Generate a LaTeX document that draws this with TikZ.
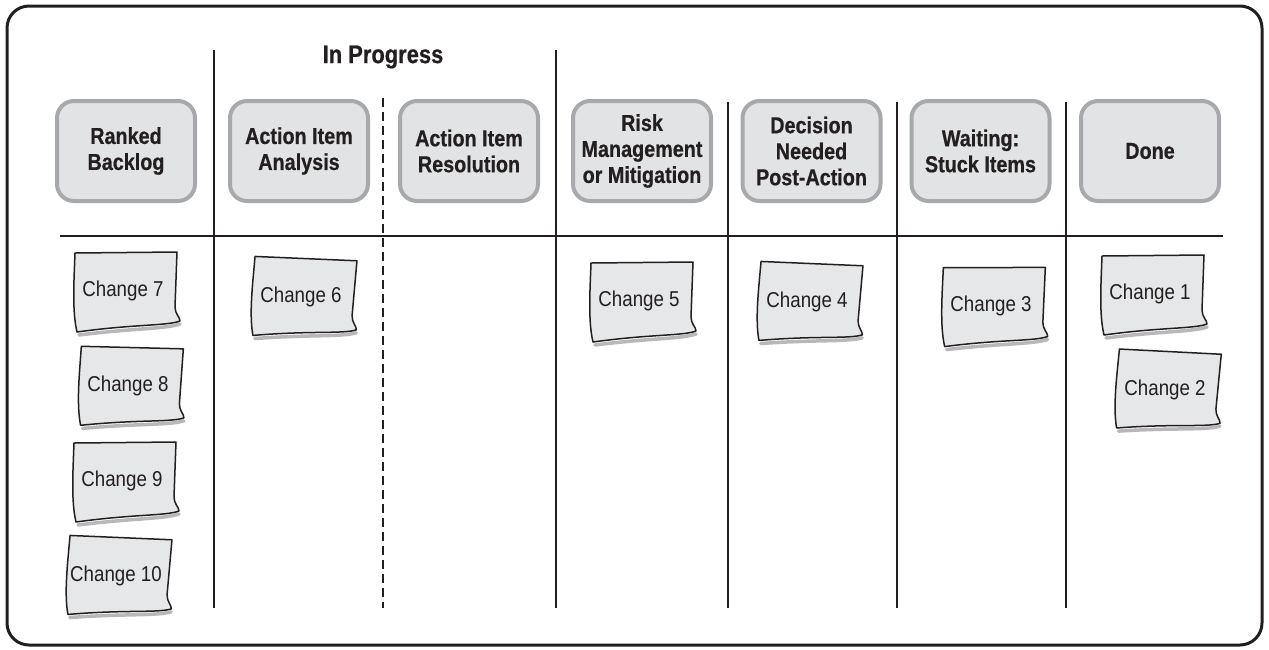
\documentclass[tikz,border=0pt]{standalone}
\usepackage{fontspec}
\setmainfont{Liberation Sans}[FakeStretch=0.87]
\newfontfamily\hdrfont{Liberation Sans}[FakeStretch=0.86,FakeBold=0.6]
\definecolor{ink}{HTML}{231F20}
\definecolor{hdrfill}{HTML}{E2E3E4}
\definecolor{hdrline}{HTML}{A7A9AC}
\definecolor{notefill}{HTML}{E6E7E8}
\definecolor{noteshadow}{HTML}{B8B8B8}
\tikzset{
  frame/.style={draw=ink,line width=3pt,rounded corners=22pt},
  hdr/.style={draw=hdrline,fill=hdrfill,line width=4pt,rounded corners=17pt,
    minimum width=138pt,minimum height=100pt,align=center,text=ink,
    font=\hdrfont\fontsize{23}{26}\selectfont\bfseries},
  title/.style={text=ink,font=\hdrfont\fontsize{25.5}{30}\selectfont\bfseries},
  lane/.style={draw=ink,line width=2.3pt},
  lanedash/.style={draw=ink,line width=2.3pt,dash pattern=on 9pt off 5pt},
  notebody/.style={draw=ink,fill=notefill,line width=1.5pt,line join=round},
  notesh/.style={draw=noteshadow,line width=3.5pt,line cap=round},
  notetxt/.style={text=ink,font=\fontsize{21.5}{25}\selectfont},
}
\newcommand\stickynote[5]{%
  \begin{scope}[shift={(#2,#3)},rotate=#4]
    \draw[notesh] (-46,44) .. controls (10,37) and (40,38) .. (55,33);
    \draw[notebody] (-50,-38) -- (52,-39) -- (50,16)
      .. controls (50,23) and (55,26) .. (55,30)
      .. controls (42,35) and (10,33) .. (-48,41)
      .. controls (-53,20) and (-51,-10) .. cycle;
    \node[notetxt] (#1) at (-2,0) {#5};
  \end{scope}}
\begin{document}
\begin{tikzpicture}[x=1pt,y=-1pt]
\useasboundingbox (0,0) rectangle (1269,649);
\draw[frame] (7,6) rectangle (1262,645);
% lanes
\coordinate (h1) at (60,236);
\coordinate (h2) at (1223,236);
\draw[lane] (h1) -- (h2);
\coordinate (l1t) at (214,50);  \coordinate (l1b) at (214,608);
\coordinate (l2t) at (383,98);  \coordinate (l2b) at (383,608);
\coordinate (l3t) at (556,50);  \coordinate (l3b) at (556,608);
\coordinate (l4t) at (728,102); \coordinate (l4b) at (728,608);
\coordinate (l5t) at (897,102); \coordinate (l5b) at (897,608);
\coordinate (l6t) at (1066,102);\coordinate (l6b) at (1066,608);
\draw[lane] (l1t) -- (l1b);
\draw[lanedash] (l2t) -- (l2b);
\draw[lane] (l3t) -- (l3b);
\draw[lane] (l4t) -- (l4b);
\draw[lane] (l5t) -- (l5b);
\draw[lane] (l6t) -- (l6b);
\node[title] (inprog) at (383,57) {In Progress};
% headers
\node[hdr] (rb) at (126,151) {Ranked\\Backlog};
\node[hdr] (aia) at (299,151) {Action Item\\Analysis};
\node[hdr] (air) at (469,151) {Action Item\\Resolution};
\node[hdr] (risk) at (642,151) {Risk\\Management\\or Mitigation};
\node[hdr] (dec) at (811.5,151) {Decision\\Needed\\Post-Action};
\node[hdr] (wait) at (980.5,151) {Waiting:\\Stuck Items};
\node[hdr] (done) at (1150,151) {Done};
% notes
\stickynote{c7}{125}{291}{0}{Change 7}
\stickynote{c8}{130}{386}{-2}{Change 8}
\stickynote{c9}{124}{481}{0}{Change 9}
\stickynote{c10}{118}{576}{-3}{Change 10}
\stickynote{c6}{303}{297}{-3}{Change 6}
\stickynote{c5}{641}{301}{0}{Change 5}
\stickynote{c4}{809}{302}{-3}{Change 4}
\stickynote{c3}{993}{306}{-0.5}{Change 3}
\stickynote{c1}{1152}{294}{0}{Change 1}
\stickynote{c2}{1167}{390}{-3.5}{Change 2}
\end{tikzpicture}
\end{document}
